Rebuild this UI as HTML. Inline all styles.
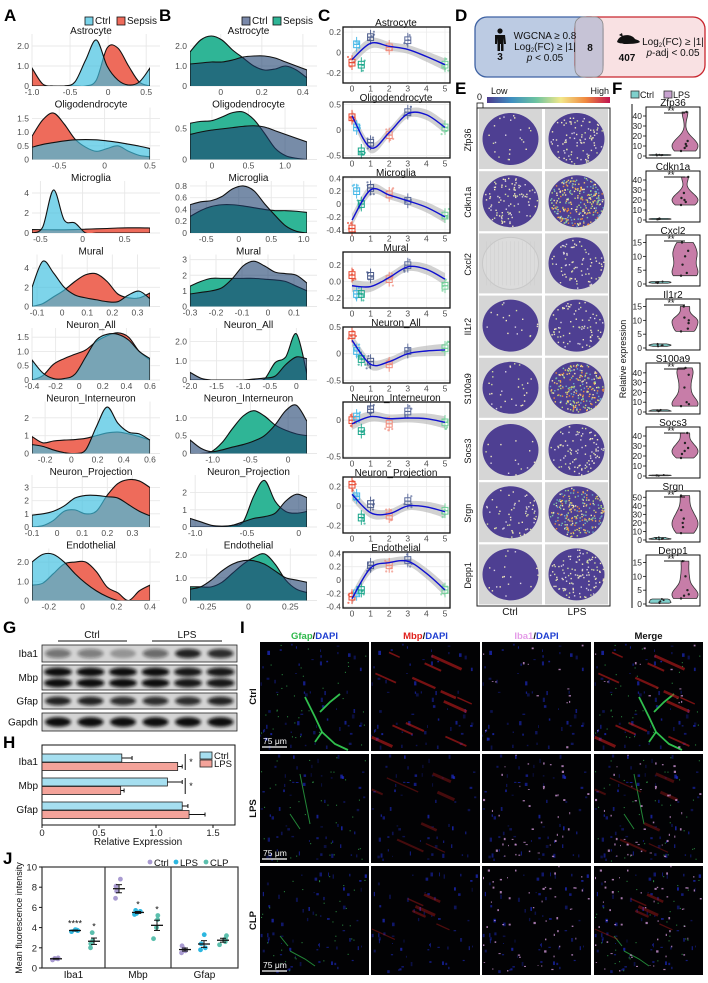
<!DOCTYPE html>
<html><head><meta charset="utf-8">
<style>
body{margin:0;background:#fff}
svg{display:block;font-family:"Liberation Sans",Arial,sans-serif}
</style></head>
<body>
<svg id="fig" width="708" height="983" viewBox="0 0 708 983"></svg>
<script>
// ---------- DATA ----------
const cellTypes=['Astrocyte','Oligodendrocyte','Microglia','Mural','Neuron_All','Neuron_Interneuron','Neuron_Projection','Endothelial'];
// Panel A
const aXDomain=[[-1,0.55],[-0.8,0.5],[-0.6,0.8],[-0.12,0.35],[-0.4,0.6],[-0.3,0.6],[-0.1,0.37],[-0.3,0.4]];
const aYMax=[2.5,1.83,5,5.2,1.75,2.8,3.8,2.6];
const aXTicks=[[-1,-0.5,0,0.5],[-0.5,0,0.5],[-0.5,0,0.5],[-0.1,0,0.1,0.2,0.3],[-0.4,-0.2,0,0.2,0.4,0.6],[-0.2,0,0.2,0.4,0.6],[-0.1,0,0.1,0.2,0.3],[-0.2,0,0.2,0.4]];
const aXTickLabels=[['-1.0','-0.5','0','0.5'],['-0.5','0','0.5'],['-0.5','0','0.5'],['-0.1','0','0.1','0.2','0.3'],['-0.4','-0.2','0','0.2','0.4','0.6'],['-0.2','0','0.2','0.4','0.6'],['-0.1','0','0.1','0.2','0.3'],['-0.2','0','0.2','0.4']];
const aYTicks=[[0,1,2],[0,0.5,1,1.5],[0,2,4],[0,2,4],[0,0.5,1,1.5],[0,1,2],[0,1,2,3],[0,1,2]];
const aYTickLabels=[['0','1.0','2.0'],['0','0.5','1.0','1.5'],['0','2','4'],['0','2','4'],['0','0.5','1.0','1.5'],['0','1','2'],['0','1','2','3'],['0','1.0','2.0']];
const aCtrl=[
[0,0,0,0,0.2,1.3,2.3,1.0,0.3,0.05,0.2,0.9],
[0.45,0.55,0.62,0.68,0.72,0.73,0.72,0.68,0.63,0.56,0.49,0.4],
[0,0.6,4.3,1.3,1.0,0,0,0,0,0,0,0],
[2.0,4.7,3.5,2.0,1.2,0.9,0.7,0.5,0.5,1.2,1.6,0.8],
[0.7,0.25,0.05,0.05,0.2,0.8,1.4,1.6,1.6,1.4,1.0,0.75],
[0.5,0.4,0.2,0.05,0,0.2,1.5,2.6,1.7,1.2,1.1,0.75],
[0.9,1.0,1.2,1.6,2.2,2.4,2.4,2.3,2.2,1.7,1.2,0.85],
[2.0,2.4,2.4,2.0,1.4,0.9,0.5,0.2,0,0,0,0]];
const aSepsis=[
[0.9,0.1,0,0,0,0,0.3,1.9,1.9,1.0,0.2,0],
[0.85,1.45,1.7,1.3,0.75,0.45,0.3,0.4,0.5,0.3,0.15,0.1],
[0.35,0.33,0.32,0.32,0.34,0.38,0.42,0.45,0.5,0.52,0.52,0.5],
[0,0.3,1.0,1.7,2.6,3.3,3.4,2.6,1.3,0.9,0.9,1.4],
[0,0.15,0.55,0.75,0.9,1.05,1.35,1.55,1.65,1.5,1.0,0.7],
[0.95,0.6,0.7,0.75,0.78,0.85,1.0,1.15,1.2,1.1,0.95,0.75],
[0,0.1,0.5,1.2,1.3,1.0,1.2,2.4,3.3,3.6,3.5,3.0],
[0.8,0.9,1.4,1.9,2.0,2.0,1.5,0.7,0.4,0,0.5,0.8]];
// Panel B
const bXDomain=[[-0.15,0.42],[-0.3,1.3],[-0.75,1.05],[-0.3,0.15],[-2.0,0.2],[-1.3,0.25],[-1.05,0.08],[-0.35,0.35]];
const bYMax=[2.5,0.8,0.85,3.2,2.6,1.4,2.9,2.2];
const bXTicks=[[0,0.2,0.4],[0,0.5,1.0],[-0.5,0,0.5,1.0],[-0.3,-0.2,-0.1,0,0.1],[-2,-1.5,-1,-0.5,0],[-1,-0.5,0],[-1,-0.5,0],[-0.25,0,0.25]];
const bXTickLabels=[['0','0.2','0.4'],['0','0.5','1.0'],['-0.5','0','0.5','1.0'],['-0.3','-0.2','-0.1','0','0.1'],['-2.0','-1.5','-1.0','-0.5','0'],['-1.0','-0.5','0'],['-1.0','-0.5','0'],['-0.25','0','0.25']];
const bYTicks=[[0,1,2],[0,0.5],[0,0.2,0.4,0.6,0.8],[0,1,2,3],[0,1,2],[0,0.5,1],[0,1,2],[0,1,2]];
const bYTickLabels=[['0','1.0','2.0'],['0','0.5'],['0','0.2','0.4','0.6','0.8'],['0','1','2','3'],['0','1.0','2.0'],['0','0.5','1.0'],['0','1','2'],['0','1.0','2.0']];
const bCtrl=[
[1.1,1.15,1.2,1.2,1.3,1.45,1.5,1.5,1.4,1.2,1.0,0.8],
[0.4,0.44,0.47,0.49,0.51,0.53,0.54,0.52,0.46,0.4,0.34,0.28],
[0.48,0.53,0.55,0.62,0.75,0.8,0.72,0.5,0.3,0.12,0.03,0],
[0.8,0.9,1.0,1.2,1.8,2.6,2.9,2.6,2.2,2.1,2.0,1.5],
[0.4,0.1,0,0,0,0,0.05,0.1,0.2,0.8,1.2,1.1],
[0.38,0.15,0.05,0.1,0.18,0.25,0.35,0.5,0.8,1.2,1.35,0.9],
[0.5,0.3,0.1,0.05,0.1,0.3,0.5,0.6,0.8,1.5,1.9,1.7],
[0.5,0.6,0.9,1.3,1.6,1.75,1.75,1.6,1.3,1.0,0.9,0.8]];
const bSepsis=[
[1.7,2.3,2.5,2.3,1.8,1.4,1.0,0.8,0.85,1.0,0.8,0.4],
[0.58,0.61,0.62,0.68,0.75,0.76,0.64,0.42,0.18,0.06,0.02,0],
[0.28,0.38,0.45,0.48,0.48,0.46,0.43,0.4,0.38,0.38,0.37,0.35],
[1.3,1.6,1.8,1.8,1.8,1.8,1.8,1.75,1.7,1.6,1.3,1.0],
[0,0,0,0,0,0,0,0.05,0.9,1.2,2.4,0.3],
[0,0,0.05,0.3,0.7,1.05,1.2,1.05,0.8,0.65,0.55,0.5],
[0,0,0,0,0.1,0.3,1.8,2.7,1.5,0.9,0.8,0.9],
[0.6,0.6,0.6,0.8,1.2,1.6,1.9,2.05,1.6,0.9,0.5,0.35]];
// Panel C
const cBoxX=[0,0.25,0.5,1,2,3,5];
const cYDomain=[[-0.3,0.25],[-0.55,0.55],[-0.45,0.42],[-0.32,0.36],[-0.55,0.5],[-0.52,0.25],[-0.28,0.3],[-0.42,0.42]];
const cYTicks=[[-0.2,0,0.2],[-0.5,0,0.5],[-0.4,-0.2,0,0.2,0.4],[-0.2,0,0.2],[-0.5,0,0.5],[-0.5,0],[-0.2,0,0.2],[-0.4,-0.2,0,0.2,0.4]];
const cYTickLabels=[['-0.2','0','0.2'],['-0.5','0','0.5'],['-0.4','-0.2','0','0.2','0.4'],['-0.2','0.0','0.2'],['-0.5','0','0.5'],['-0.5','0'],['-0.2','0','0.2'],['-0.4','-0.2','0','0.2','0.4']];
const cMedians=[
[-0.1,0.08,-0.12,0.15,0.05,0.12,-0.12],
[0.25,0.05,-0.42,-0.25,-0.1,0.35,0.05],
[-0.38,0.2,0,0.25,0.15,0.05,-0.18],
[0.08,-0.15,-0.15,0.07,0.03,0.2,-0.05],
[0.35,0.05,-0.1,-0.15,-0.2,0.05,0.1],
[0,0.05,-0.15,0.15,-0.05,0.12,-0.03],
[0.22,0.1,-0.12,0.02,-0.1,0.05,-0.05],
[-0.25,-0.2,-0.15,0.22,0.22,0.3,-0.15]];
const cCurveX=[0,1,2,3,4,5];
const cCurve=[
[-0.07,0.09,0.06,0.03,-0.04,-0.12],
[0.28,-0.35,-0.05,0.32,0.3,0.05],
[-0.25,0.22,0.14,0.05,-0.05,-0.2],
[-0.05,-0.06,0.05,0.18,0.15,0.03],
[0.25,-0.2,-0.15,0,0.05,0.07],
[-0.05,0.05,0.02,0.03,0.02,-0.03],
[0.12,-0.07,-0.08,0,-0.01,-0.06],
[-0.28,0.18,0.26,0.28,0.1,-0.15]];
const cXTicks=[0,1,2,3,4,5];
// Panel E
const eGenes=['Zfp36','Cdkn1a','Cxcl2','Il1r2','S100a9','Socs3','Srgn','Depp1'];
const eCtrlLevel=[0.06,0.25,0,0.05,0.08,0.04,0.15,0.05];
const eLpsLevel=[0.25,0.7,0.2,0.2,0.6,0.25,0.55,0.3];
// Panel F
const fGenes=['Zfp36','Cdkn1a','Cxcl2','Il1r2','S100a9','Socs3','Srgn','Depp1'];
const fYMax=[47,47,17,17,48,47,55,17];
const fYTicks=[[0,10,20,30,40],[0,10,20,30,40],[0,5,10,15],[0,5,10,15],[0,10,20,30,40],[0,10,20,30,40],[0,10,20,30,40,50],[0,5,10,15]];
const fCtrl=[[0.5,0.8,1,1.2,1.5],[0.5,0.8,1,1.3,1.6],[0.3,0.5,0.6,0.7,0.9],[0.6,0.9,1,1.2,1.5],[0.8,1,1.4,1.8,2.2],[0.3,0.5,0.6,0.8,1],[0.8,1.2,1.6,2.2,3],[0.3,0.6,1,1.4,1.8]];
const fLps=[[5,8,10,12,15,44],[15,18,20,22,27,43],[3,4,7,10,12,15],[6,7,9,10,11,15],[6,8,10,25,38,45],[18,22,25,28,33,43],[8,15,20,25,35,52],[2,3,3.5,5,10,15.5]];
// Panel G
const gProteins=['Iba1','Mbp','Gfap','Gapdh'];
const gBand=[[0.5,0.45,0.3,0.55,0.9,0.85],[1,1,1,1,0.95,0.95],[0.9,0.9,0.85,0.85,0.85,0.9],[1,1,1,1,1,1]];
// Panel H
const hCats=['Iba1','Mbp','Gfap'];
const hCtrl=[0.7,1.1,1.23];
const hLps=[1.19,0.69,1.29];
const hCtrlErr=[0.09,0.13,0.05];
const hLpsErr=[0.04,0.03,0.14];
const hXTicks=[0,0.5,1.0,1.5];
const hXTickLabels=['0','0.5','1.0','1.5'];
// Panel J
const jCats=['Iba1','Mbp','Gfap'];
const jCtrl=[[0.8,0.9,1.0,0.95],[6.9,7.6,8.1,8.8],[1.5,1.7,1.9,2.2]];
const jLps=[[3.6,3.7,3.8,3.75],[5.3,5.4,5.6,5.7],[1.8,2.0,2.4,3.3]];
const jClp=[[2.0,2.4,2.7,3.5],[2.9,4.0,4.8,5.2],[2.3,2.6,2.9,3.2]];
const jYTicks=[0,2,4,6,8,10];
const jStars=[['','****','*'],['','*','*'],['','','']];

// ---------- HELPERS ----------
const NS='http://www.w3.org/2000/svg';
const svg=document.getElementById('fig');
function E(tag,attrs,parent){const e=document.createElementNS(NS,tag);for(const k in attrs)e.setAttribute(k,attrs[k]);(parent||svg).appendChild(e);return e;}
function N(e,name){


return e;}
function T(x,y,s,attrs,parent){const e=E('text',Object.assign({x:x,y:y},attrs||{}),parent);e.textContent=s;return e;}
function slug(s){return s.toLowerCase().replace(/[^a-z0-9]+/g,'-');}
function cr(p){let d='M'+p[0][0].toFixed(2)+','+p[0][1].toFixed(2);for(let i=0;i<p.length-1;i++){const p0=p[i-1]||p[i],p1=p[i],p2=p[i+1],p3=p[i+2]||p2;const c1=[p1[0]+(p2[0]-p0[0])/6,p1[1]+(p2[1]-p0[1])/6],c2=[p2[0]-(p3[0]-p1[0])/6,p2[1]-(p3[1]-p1[1])/6];d+='C'+c1[0].toFixed(2)+','+c1[1].toFixed(2)+' '+c2[0].toFixed(2)+','+c2[1].toFixed(2)+' '+p2[0].toFixed(2)+','+p2[1].toFixed(2);}return d;}
let seed=7;function rnd(){seed=(seed*16807)%2147483647;return (seed-1)/2147483646;}
let clipId=0;
const TICK={'font-size':8.5,fill:'#4d4d4d'};

// panel letters
[['A',4,21],['B',159,21],['C',318,21],['D',455,21],['E',455,94],['F',612,94],['G',3,633],['H',3,748],['I',240,633],['J',3,864]].forEach(l=>{const t=T(l[1],l[2],l[0],{'font-size':17,'font-weight':'bold',fill:'#000'});N(t,'panel-label-'+l[0].toLowerCase());});

// ---------- DENSITY PANELS (A,B) ----------
function dens(prefix,px0,px1,k,dom,ymax,xt,xl,yt,yl,sCtrl,sSep,cCtrl,opCtrl,cSep){
const bot=86+73.5*k,top=bot-50;
const g=E('g',{});N(g,prefix+'-density-'+slug(cellTypes[k]));
const sx=v=>px0+(v-dom[0])/(dom[1]-dom[0])*(px1-px0),sy=v=>bot-v/ymax*(bot-top);
xt.forEach(v=>{const l=E('line',{x1:sx(v),x2:sx(v),y1:top-2,y2:bot,stroke:'#e8e8e8','stroke-width':0.9},g);N(l,'x-gridline');});
yt.forEach(v=>{const l=E('line',{x1:px0,x2:px1+10,y1:sy(v),y2:sy(v),stroke:'#e8e8e8','stroke-width':0.9},g);N(l,'y-gridline');});
const cid='clip'+(clipId++);const cp=E('clipPath',{id:cid},g);N(cp,'plot-clip');const cr2=E('rect',{x:px0,y:top-8,width:px1-px0,height:bot-top+8},cp);N(cr2,'clip-rect');
[[sSep,cSep,1,'sepsis'],[sCtrl,cCtrl,opCtrl,'ctrl']].forEach(s=>{
const arr=s[0];const pts=arr.map((v,i)=>[sx(dom[0]+i*(dom[1]-dom[0])/(arr.length-1)),sy(v)]);
const p=E('path',{d:cr(pts)+'L'+px1+','+(bot+3)+'L'+px0+','+(bot+3)+'Z',fill:s[1],'fill-opacity':s[2],stroke:'#111','stroke-width':1.1,'clip-path':'url(#'+cid+')'},g);N(p,s[3]+'-density-area');});
xt.forEach((v,i)=>{const t=T(sx(v),bot+9,xl[i],Object.assign({'text-anchor':'middle'},TICK),g);N(t,'x-tick-label');});
yt.forEach((v,i)=>{const t=T(px0-3,sy(v)+3,yl[i],Object.assign({'text-anchor':'end'},TICK),g);N(t,'y-tick-label');});
const tt=T((px0+px1)/2,top-2,cellTypes[k],{'text-anchor':'middle','font-size':10,fill:'#111'},g);N(tt,'facet-title');
}
for(let k=0;k<8;k++){
dens('a',32,150,k,aXDomain[k],aYMax[k],aXTicks[k],aXTickLabels[k],aYTicks[k],aYTickLabels[k],aCtrl[k],aSepsis[k],'#3fc0e0',0.68,'#ee6b5b');
dens('b',190,307,k,bXDomain[k],bYMax[k],bXTicks[k],bXTickLabels[k],bYTicks[k],bYTickLabels[k],bCtrl[k],bSepsis[k],'#1c3f6e',0.6,'#2fb596');
}
function legend(x,y,items,pre){items.forEach((it,i)=>{const r=E('rect',{x:it[2],y:y-7,width:8,height:8,fill:it[1],stroke:'#111','stroke-width':0.8});N(r,pre+'-legend-swatch-'+slug(it[0]));const t=T(it[2]+10,y,it[0],{'font-size':10,fill:'#111'});N(t,pre+'-legend-label-'+slug(it[0]));});}
legend(0,24,[['Ctrl','#79d3e9',85],['Sepsis','#ee6b5b',117]],'a');
legend(0,24,[['Ctrl','#7a89aa',242],['Sepsis','#2fb596',273]],'b');

// ---------- PANEL C ----------
const cColors=['#e8472f','#41b6e6','#17a589','#4a5a8a','#f08a7a','#5a6a9a','#6fcf97'];
for(let k=0;k<8;k++){
const top=27+75*k,bot=83+75*k,px0=343,px1=450;
const g=E('g',{});N(g,'c-trajectory-'+slug(cellTypes[k]));
const sx=v=>352+v*18.6,yd=cYDomain[k],sy=v=>bot-(v-yd[0])/(yd[1]-yd[0])*(bot-top);
const bg=E('rect',{x:px0,y:top,width:px1-px0,height:bot-top,fill:'#fff'},g);N(bg,'plot-background');
cXTicks.forEach(v=>{const l=E('line',{x1:sx(v),x2:sx(v),y1:top,y2:bot,stroke:'#ececec','stroke-width':0.8},g);N(l,'x-gridline');});
cYTicks[k].forEach(v=>{const l=E('line',{x1:px0,x2:px1,y1:sy(v),y2:sy(v),stroke:'#ececec','stroke-width':0.8},g);N(l,'y-gridline');});
const rng=yd[1]-yd[0];
const up=cCurveX.map((x,i)=>[sx(x),sy(cCurve[k][i]+rng*(0.07+0.04*Math.abs(x-2.5)/2.5))]);
const dn=cCurveX.map((x,i)=>[sx(x),sy(cCurve[k][i]-rng*(0.07+0.04*Math.abs(x-2.5)/2.5))]).reverse();
const rib=E('path',{d:cr(up)+'L'+dn[0][0]+','+dn[0][1]+cr(dn).replace(/^M[^C]*/,'')+'Z',fill:'#b3b3b3','fill-opacity':0.6},g);N(rib,'confidence-ribbon');
cBoxX.forEach((bx,i)=>{const m=cMedians[k][i],x=sx(bx),col=cColors[i],h=rng*0.06;
const w=E('line',{x1:x,x2:x,y1:sy(m+h*2.2),y2:sy(m-h*2.2),stroke:col,'stroke-width':0.9},g);N(w,'box-whisker');
const b=E('rect',{x:x-3,y:sy(m+h),width:6,height:Math.abs(sy(m-h)-sy(m+h)),fill:'#fff','fill-opacity':0.3,stroke:col,'stroke-width':1},g);N(b,'box');
const ml=E('line',{x1:x-3,x2:x+3,y1:sy(m),y2:sy(m),stroke:col,'stroke-width':1.2},g);N(ml,'box-median');
for(let j=0;j<4;j++){const c=E('circle',{cx:x+(rnd()-0.5)*8,cy:sy(m+(rnd()-0.5)*h*4),r:1.1,fill:col,'fill-opacity':0.7},g);N(c,'jitter-point');}});
const cur=E('path',{d:cr(cCurveX.map((x,i)=>[sx(x),sy(cCurve[k][i])])),fill:'none',stroke:'#1010d0','stroke-width':1.4},g);N(cur,'loess-curve');
const fr=E('rect',{x:px0,y:top,width:px1-px0,height:bot-top,fill:'none',stroke:'#111','stroke-width':1.3},g);N(fr,'plot-frame');
cXTicks.forEach(v=>{const t=T(sx(v),bot+8.5,String(v),Object.assign({'text-anchor':'middle'},TICK),g);N(t,'x-tick-label');});
cYTicks[k].forEach((v,i)=>{const t=T(px0-2,sy(v)+3,cYTickLabels[k][i],Object.assign({'text-anchor':'end'},TICK),g);N(t,'y-tick-label');});
const tt=T(396,top-1,cellTypes[k],{'text-anchor':'middle','font-size':10,fill:'#111'},g);N(tt,'facet-title');
}

// ---------- PANEL D ----------
(function(){const g=E('g',{});N(g,'venn-diagram');
const b=E('rect',{x:475,y:17,width:128,height:60,rx:12,fill:'#bccbe3',stroke:'#3e62a3','stroke-width':1.3},g);N(b,'human-set');
const r=E('rect',{x:575,y:17,width:130,height:60,rx:12,fill:'#f4c9cc','fill-opacity':0.55,stroke:'#c8262e','stroke-width':1.3},g);N(r,'mouse-set');
const ov=E('rect',{x:575,y:17,width:28,height:60,rx:8,fill:'#c6c3d6',stroke:'#888','stroke-width':0.8},g);N(ov,'overlap-set');
const hd=E('circle',{cx:500,cy:31,r:2.6,fill:'#111'},g);N(hd,'human-icon-head');
const bd=E('path',{d:'M495,35h10l1,9h-2l-0.5,-6v13h-2.5v-7h-1v7h-2.5v-13l-0.5,6h-2z',fill:'#111'},g);N(bd,'human-icon-body');
[[500,60,'3'],[590,51,'8'],[627,61,'407']].forEach(a=>{const t=T(a[0],a[1],a[2],{'text-anchor':'middle','font-size':10,'font-weight':'bold',fill:'#111'},g);N(t,'set-count');});
const m=E('path',{d:'M617,42c2,-8 14,-9 18,-3c2,1 4,1 5,3c-3,2 -10,2 -16,2c-2,-1 -4,0 -7,-2zM619,35l3,-2l1,4z',fill:'#111'},g);N(m,'mouse-icon');
const t1=T(545,39,'WGCNA ≥ 0.8',{'text-anchor':'middle','font-size':10,fill:'#111'},g);N(t1,'criterion-text');
const t2=E('text',{x:545,y:50,'text-anchor':'middle','font-size':10,fill:'#111'},g);N(t2,'criterion-text');t2.innerHTML='Log<tspan font-size="6" dy="2">2</tspan><tspan dy="-2">(FC) ≥ |1|</tspan>';
const t3=E('text',{x:545,y:61,'text-anchor':'middle','font-size':10,fill:'#111'},g);N(t3,'criterion-text');t3.innerHTML='<tspan font-style="italic">p</tspan> &lt; 0.05';
const t4=E('text',{x:673,y:45,'text-anchor':'middle','font-size':10,fill:'#111'},g);N(t4,'criterion-text');t4.innerHTML='Log<tspan font-size="6" dy="2">2</tspan><tspan dy="-2">(FC) ≥ |1|</tspan>';
const t5=E('text',{x:673,y:56,'text-anchor':'middle','font-size':10,fill:'#111'},g);N(t5,'criterion-text');t5.innerHTML='<tspan font-style="italic">p</tspan>-adj &lt; 0.05';
})();

// ---------- PANEL E ----------
(function(){const g=E('g',{});N(g,'spatial-expression-maps');
const df=E('defs',{},g);N(df,'defs');
const lg=E('linearGradient',{id:'cbar',x1:0,x2:1,y1:0,y2:0},df);N(lg,'colorbar-gradient');
['#4b3a8e','#3f8fc0','#6cc3a0','#f2e88a','#f08a40','#c0134f'].forEach((c,i)=>{const s=E('stop',{offset:i/5,'stop-color':c},lg);N(s,'gradient-stop');});
const zb=E('rect',{x:477,y:103,width:6,height:5,fill:'#fff',stroke:'#111','stroke-width':0.8},g);N(zb,'zero-swatch');
const z=T(477,100,'0',{'font-size':9,fill:'#111'},g);N(z,'colorbar-zero-label');
const cb=E('rect',{x:487,y:97,width:123,height:6,fill:'url(#cbar)'},g);N(cb,'colorbar');
const lo=T(491,94,'Low',{'font-size':9,fill:'#111'},g);N(lo,'colorbar-low-label');
const hi=T(609,94,'High',{'text-anchor':'end','font-size':9,fill:'#111'},g);N(hi,'colorbar-high-label');
const pb=E('rect',{x:477,y:108,width:133,height:498,fill:'#fff',stroke:'#222','stroke-width':1},g);N(pb,'panel-frame');
eGenes.forEach((gene,i)=>{const y=109+62.2*i;
const gl=T(0,0,gene,{'font-size':9,fill:'#111','text-anchor':'middle',transform:'translate(471,'+(y+31)+') rotate(-90)'},g);N(gl,'gene-label');
[[479,eCtrlLevel[i],'ctrl'],[545,eLpsLevel[i],'lps']].forEach((c,j)=>{
const bg=E('rect',{x:c[0],y:y,width:63,height:60,fill:'#d6d6d6'},g);N(bg,'tissue-background');
const cx=c[0]+31.5,cy=y+30,rx=28,ry=26;
const isEmpty=(j===0&&c[1]===0);
const el=E('ellipse',{cx:cx,cy:cy,rx:rx,ry:ry,fill:isEmpty?'#dcdcdc':'#4e3f92',stroke:isEmpty?'#c8c8c8':'none'},g);N(el,c[2]+'-tissue-'+slug(gene));
if(isEmpty){for(let q=-24;q<=24;q+=4){const l=E('line',{x1:cx+q,x2:cx+q,y1:cy-22,y2:cy+22,stroke:'#cacaca','stroke-width':0.4},g);N(l,'empty-grid');}return;}
seed=100+i*2+j;const n=Math.round(c[1]*380);
const pal=c[1]>0.5?['#f2c46a','#e98a3c','#b9d77a','#f4e8b0','#7fc6a4','#6aa8c8']:['#e8e0c0','#f3e9b8','#cfd9a0','#d8d0e0'];
for(let q=0;q<n;q++){const a=rnd()*6.283,rr=Math.sqrt(rnd());const d=E('rect',{x:(cx+Math.cos(a)*rr*(rx-1)).toFixed(1),y:(cy+Math.sin(a)*rr*(ry-1)).toFixed(1),width:1.4,height:1.4,fill:pal[Math.floor(rnd()*pal.length)]},g);N(d,'spot');}
});});
const cl=T(510,615,'Ctrl',{'text-anchor':'middle','font-size':10,fill:'#111'},g);N(cl,'x-label-ctrl');
const ll=T(577,615,'LPS',{'text-anchor':'middle','font-size':10,fill:'#111'},g);N(ll,'x-label-lps');
})();

// ---------- PANEL F ----------
(function(){const g=E('g',{});N(g,'violin-plots');
const BX=646,BW=54,CC=660,LC=685;
const ax=E('line',{x1:632,x2:632,y1:104,y2:608,stroke:'#111','stroke-width':1},g);N(ax,'y-axis-line');
const yl=T(0,0,'Relative expression',{'font-size':9,fill:'#111','text-anchor':'middle',transform:'translate(626,359) rotate(-90)'},g);N(yl,'y-axis-title');
[['Ctrl','#7fd0cc',631],['LPS','#c7a2cf',664]].forEach(l=>{const r=E('rect',{x:l[2],y:91,width:8,height:7,fill:l[1],stroke:'#333','stroke-width':0.8},g);N(r,'legend-swatch-'+slug(l[0]));const t=T(l[2]+9,98,l[0],{'font-size':9,fill:'#111'},g);N(t,'legend-label-'+slug(l[0]));});
function violin(pts,cx,sy,maxW){const mn=Math.min(...pts),mx=Math.max(...pts);const bw=Math.max((mx-mn)*0.18,0.3);const ys=[];for(let s=0;s<=24;s++)ys.push(mn+(mx-mn)*s/24);const d=ys.map(y=>pts.reduce((a,p)=>a+Math.exp(-0.5*((y-p)/bw)**2),0));const md=Math.max(...d);const R=ys.map((y,i)=>[cx+d[i]/md*maxW,sy(y)]),L=ys.map((y,i)=>[cx-d[i]/md*maxW,sy(y)]).reverse();return 'M'+R.map(p=>p[0].toFixed(1)+','+p[1].toFixed(1)).join('L')+'L'+L.map(p=>p[0].toFixed(1)+','+p[1].toFixed(1)).join('L')+'Z';}
fGenes.forEach((gene,i)=>{const top=107+64*i,bot=top+51;const sy=v=>bot-2-v/fYMax[i]*(bot-top-4);
const fr=E('rect',{x:BX,y:top,width:BW,height:bot-top,fill:'#fff',stroke:'#111','stroke-width':1},g);N(fr,'violin-frame-'+slug(gene));
const tt=T(BX+BW/2,top-1,gene,{'text-anchor':'middle','font-size':10,fill:'#111'},g);N(tt,'violin-title');
fYTicks[i].forEach(v=>{const t=T(642,sy(v)+3,String(v),{'text-anchor':'end','font-size':8.5,fill:'#222'},g);N(t,'y-tick-label');const tk=E('line',{x1:643,x2:BX,y1:sy(v),y2:sy(v),stroke:'#111','stroke-width':0.8},g);N(tk,'y-tick');});
const vc=E('path',{d:violin(fCtrl[i],CC,sy,11),fill:'#7fd0cc',stroke:'#333','stroke-width':0.8},g);N(vc,'ctrl-violin');
const vl=E('path',{d:violin(fLps[i],LC,sy,13),fill:'#c77da8',stroke:'#333','stroke-width':0.8},g);N(vl,'lps-violin');
seed=300+i;fLps[i].forEach(p=>{const c=E('circle',{cx:LC+(rnd()-0.5)*8,cy:sy(p),r:1.2,fill:'#222'},g);N(c,'lps-point');});
fCtrl[i].forEach(p=>{const c=E('circle',{cx:CC+(rnd()-0.5)*8,cy:sy(p),r:1,fill:'#222'},g);N(c,'ctrl-point');});
const br=E('line',{x1:664,x2:LC,y1:top+6,y2:top+6,stroke:'#111','stroke-width':1},g);N(br,'significance-bracket');
const st=T(671,top+7,'**',{'text-anchor':'middle','font-size':9,fill:'#111'},g);N(st,'significance-stars');
});})();

// ---------- PANEL G ----------
(function(){const g=E('g',{});N(g,'western-blot');
const f=E('filter',{id:'blur',x:'-20%',y:'-50%',width:'140%',height:'200%'},g);N(f,'blur-filter');const fb=E('feGaussianBlur',{stdDeviation:1.6},f);N(fb,'blur');
const rows=[[645,17],[665,25],[693,16],[713,18]];
const l1=E('line',{x1:58,x2:127,y1:641,y2:641,stroke:'#111','stroke-width':1},g);N(l1,'ctrl-group-line');
const l2=E('line',{x1:152,x2:222,y1:641,y2:641,stroke:'#111','stroke-width':1},g);N(l2,'lps-group-line');
const c=T(92,638,'Ctrl',{'text-anchor':'middle','font-size':10,fill:'#111'},g);N(c,'ctrl-group-label');
const l=T(187,638,'LPS',{'text-anchor':'middle','font-size':10,fill:'#111'},g);N(l,'lps-group-label');
gProteins.forEach((p,i)=>{const y=rows[i][0],h=rows[i][1];
const bg=E('rect',{x:42,y:y,width:195,height:h,fill:'#d4d4d4',stroke:'#222','stroke-width':0.8},g);N(bg,'blot-strip-'+slug(p));
const lt=T(38,y+h/2+3.5,p,{'text-anchor':'end','font-size':10,fill:'#111'},g);N(lt,'protein-label');
gBand[i].forEach((v,j)=>{const cx=58+32.5*j;
if(i===1){[y+7,y+18].forEach(yy=>{const b=E('ellipse',{cx:cx,cy:yy,rx:14,ry:4.5,fill:'#111','fill-opacity':v,filter:'url(#blur)'},g);N(b,'band');});}
else{const b=E('ellipse',{cx:cx,cy:y+h/2,rx:13,ry:h*0.27,fill:'#111','fill-opacity':v,filter:'url(#blur)'},g);N(b,'band');}});
});})();

// ---------- PANEL H ----------
(function(){const g=E('g',{});N(g,'relative-expression-bar-chart');
const sx=v=>42+v*114;
const fr=E('rect',{x:42,y:745,width:193,height:80,fill:'none',stroke:'#111','stroke-width':1},g);N(fr,'plot-frame');
hCats.forEach((c,i)=>{const y0=754+24*i;
const b1=E('rect',{x:sx(0),y:y0,width:sx(hCtrl[i])-sx(0),height:8,fill:'#a6dff0',stroke:'#222','stroke-width':0.8},g);N(b1,'ctrl-bar-'+slug(c));
const b2=E('rect',{x:sx(0),y:y0+8.5,width:sx(hLps[i])-sx(0),height:8,fill:'#f4a39a',stroke:'#222','stroke-width':0.8},g);N(b2,'lps-bar-'+slug(c));
const e1=E('line',{x1:sx(hCtrl[i]),x2:sx(hCtrl[i]+hCtrlErr[i]),y1:y0+4,y2:y0+4,stroke:'#111','stroke-width':1},g);N(e1,'ctrl-error-bar');
const e1c=E('line',{x1:sx(hCtrl[i]+hCtrlErr[i]),x2:sx(hCtrl[i]+hCtrlErr[i]),y1:y0+2,y2:y0+6,stroke:'#111','stroke-width':1},g);N(e1c,'ctrl-error-cap');
const e2=E('line',{x1:sx(hLps[i]),x2:sx(hLps[i]+hLpsErr[i]),y1:y0+12.5,y2:y0+12.5,stroke:'#111','stroke-width':1},g);N(e2,'lps-error-bar');
const e2c=E('line',{x1:sx(hLps[i]+hLpsErr[i]),x2:sx(hLps[i]+hLpsErr[i]),y1:y0+10.5,y2:y0+14.5,stroke:'#111','stroke-width':1},g);N(e2c,'lps-error-cap');
const lt=T(38,y0+11,c,{'text-anchor':'end','font-size':10,fill:'#111'},g);N(lt,'y-category-label');
if(i<2){const bx=sx(Math.max(hCtrl[i]+hCtrlErr[i],hLps[i]+hLpsErr[i]))+3;const br=E('line',{x1:bx,x2:bx,y1:y0,y2:y0+16,stroke:'#111','stroke-width':1},g);N(br,'significance-bracket');const st=T(bx+4,y0+11,'*',{'font-size':9,fill:'#111'},g);N(st,'significance-star');}
});
hXTicks.forEach((v,i)=>{const tk=E('line',{x1:sx(v),x2:sx(v),y1:825,y2:828,stroke:'#111'},g);N(tk,'x-tick');const t=T(sx(v),836,hXTickLabels[i],{'text-anchor':'middle','font-size':9.5,fill:'#222'},g);N(t,'x-tick-label');});
const xt=T(138,845,'Relative Expression',{'text-anchor':'middle','font-size':10,fill:'#111'},g);N(xt,'x-axis-title');
[['Ctrl','#a6dff0',752],['LPS','#f4a39a',760]].forEach(l=>{const r=E('rect',{x:200,y:l[2],width:12,height:7,fill:l[1],stroke:'#222','stroke-width':0.8},g);N(r,'legend-swatch-'+slug(l[0]));const t=T(214,l[2]+7,l[0],{'font-size':9.5,fill:'#111'},g);N(t,'legend-label-'+slug(l[0]));});
})();

// ---------- PANEL J ----------
(function(){const g=E('g',{});N(g,'fluorescence-intensity-dot-plot');
const sy=v=>968-v*10.1;const gx=[42,105,171],gw=[63,66,67];
const cols=['#a99bd1','#2cb7e0','#5bbfad'];
const fr=E('rect',{x:42,y:867,width:196,height:101,fill:'none',stroke:'#333','stroke-width':1.2},g);N(fr,'plot-frame');
[105,171].forEach(x=>{const l=E('line',{x1:x,x2:x,y1:867,y2:968,stroke:'#333','stroke-width':1.2},g);N(l,'facet-divider');});
jYTicks.forEach(v=>{const tk=E('line',{x1:39,x2:42,y1:sy(v),y2:sy(v),stroke:'#111'},g);N(tk,'y-tick');const t=T(37,sy(v)+3.5,String(v),{'text-anchor':'end','font-size':9.5,fill:'#222'},g);N(t,'y-tick-label');});
const yt=T(0,0,'Mean fluorescence intensity',{'font-size':9,fill:'#111','text-anchor':'middle',transform:'translate(22,918) rotate(-90)'},g);N(yt,'y-axis-title');
jCats.forEach((c,i)=>{const lt=T(gx[i]+gw[i]/2,978,c,{'text-anchor':'middle','font-size':10,fill:'#111'},g);N(lt,'x-category-label');
[jCtrl[i],jLps[i],jClp[i]].forEach((pts,j)=>{const cx=gx[i]+14+19*j;seed=500+i*3+j;
pts.forEach(p=>{const d=E('circle',{cx:cx+(rnd()-0.5)*7,cy:sy(p),r:2.4,fill:cols[j]},g);N(d,'data-point');});
const m=pts.reduce((a,b)=>a+b,0)/pts.length;const sd=Math.sqrt(pts.reduce((a,b)=>a+(b-m)**2,0)/(pts.length-1));const se=sd/Math.sqrt(pts.length);
const ml=E('line',{x1:cx-6,x2:cx+6,y1:sy(m),y2:sy(m),stroke:'#111','stroke-width':1.3},g);N(ml,'mean-line');
const el=E('line',{x1:cx,x2:cx,y1:sy(m+se),y2:sy(m-se),stroke:'#111','stroke-width':1},g);N(el,'sem-bar');
[m+se,m-se].forEach(v=>{const cp=E('line',{x1:cx-3,x2:cx+3,y1:sy(v),y2:sy(v),stroke:'#111','stroke-width':1},g);N(cp,'sem-cap');});
if(jStars[i][j]){const st=T(cx,sy(Math.max(...pts))-3,jStars[i][j],{'text-anchor':'middle','font-size':9,fill:'#111'},g);N(st,'significance-stars');}
});});
[['Ctrl',cols[0],150],['LPS',cols[1],176],['CLP',cols[2],206]].forEach(l=>{const c=E('circle',{cx:l[2],cy:862,r:2.4,fill:l[1]},g);N(c,'legend-marker-'+slug(l[0]));const t=T(l[2]+4,866,l[0],{'font-size':9.5,fill:'#111'},g);N(t,'legend-label-'+slug(l[0]));});
})();

// ---------- PANEL I ----------
(function(){const g=E('g',{});N(g,'immunofluorescence-images');
const colX=[260,371,482,594],rowY=[642,754,866],W=109,H=109;
const titles=[[['Gfap','#2db84a'],['/','#111'],['DAPI','#1f3fd1']],[['Mbp','#e0201b'],['/','#111'],['DAPI','#1f3fd1']],[['Iba1','#e59de8'],['/','#111'],['DAPI','#1f3fd1']],[['Merge','#111']]];
titles.forEach((tt,c)=>{const t=E('text',{x:colX[c]+W/2,y:639,'text-anchor':'middle','font-size':9.5,'font-weight':'bold'},g);N(t,'column-title');t.innerHTML=tt.map(p=>'<tspan fill="'+p[1]+'">'+p[0]+'</tspan>').join('');});
['Ctrl','LPS','CLP'].forEach((r,i)=>{const t=T(0,0,r,{'font-size':9.5,'font-weight':'bold',fill:'#111','text-anchor':'middle',transform:'translate(256,'+(rowY[i]+H/2)+') rotate(-90)'},g);N(t,'row-label');});
function dapi(x,y,r){seed=900+r;for(let q=0;q<60;q++){const px=x+rnd()*(W-4),py=y+rnd()*(H-4),w=0.8+rnd()*2,h=0.8+rnd()*3.5;const d=E('rect',{x:px.toFixed(1),y:py.toFixed(1),width:w.toFixed(1),height:h.toFixed(1),fill:'#1e2cc8','fill-opacity':(0.3+rnd()*0.45).toFixed(2)},g);N(d,'dapi-signal');}}
function chan(x,y,c,r){seed=1200+r*10+c;
if(c===0){for(let q=0;q<35;q++){const d=E('rect',{x:(x+rnd()*(W-2)).toFixed(1),y:(y+rnd()*(H-2)).toFixed(1),width:1.1,height:1.1,fill:'#3fd060','fill-opacity':0.6},g);N(d,'gfap-signal');}
const paths=[['M45,55 L55,75 L62,90 L75,102 L88,108','M60,70 L70,60 L80,52','M62,90 L55,100'],['M40,20 L45,45 L50,70','M30,60 L40,75'],['M30,85 L45,93 L55,100','M20,70 L28,80']][r];
paths.forEach(p=>{const pp=E('path',{d:p.replace(/(\d+),(\d+)/g,(m,a,b)=>(x+ +a)+','+(y+ +b)),fill:'none',stroke:'#38e05a','stroke-width':r===0?1.8:1,'stroke-opacity':r===0?0.85:0.6},g);N(pp,'gfap-process');});}
if(c===1){const n=[12,7,6][r];for(let q=0;q<n;q++){const px=x+rnd()*W*0.8,py=y+10+rnd()*H*0.8,len=10+rnd()*22;const l=E('line',{x1:px.toFixed(1),y1:py.toFixed(1),x2:Math.min(x+W,px+len).toFixed(1),y2:(py+len*0.45).toFixed(1),stroke:'#c41c1c','stroke-width':(1.2+rnd()*2).toFixed(1),'stroke-opacity':[0.6,0.35,0.4][r]},g);N(l,'mbp-fiber');}}
if(c===2){const n=[15,45,55][r];for(let q=0;q<n;q++){const d=E('rect',{x:(x+rnd()*(W-3)).toFixed(1),y:(y+rnd()*(H-3)).toFixed(1),width:(0.8+rnd()*1.6).toFixed(1),height:(0.8+rnd()*1.6).toFixed(1),fill:'#e7a6f0','fill-opacity':0.7},g);N(d,'iba1-signal');}}}
rowY.forEach((y,r)=>{colX.forEach((x,c)=>{
const bg=E('rect',{x:x,y:y,width:W,height:H,fill:'#020204'},g);N(bg,'image-tile');
dapi(x,y,r);
if(c<3)chan(x,y,c,r);else{chan(x,y,0,r);chan(x,y,1,r);chan(x,y,2,r);}
});
const sb=E('line',{x1:262,x2:287,y1:y+H-4,y2:y+H-4,stroke:'#fff','stroke-width':1.2},g);N(sb,'scale-bar');
const st=T(263,y+H-7,'75 μm',{'font-size':8.5,fill:'#fff'},g);N(st,'scale-bar-label');});
})();
</script>
</body></html>
